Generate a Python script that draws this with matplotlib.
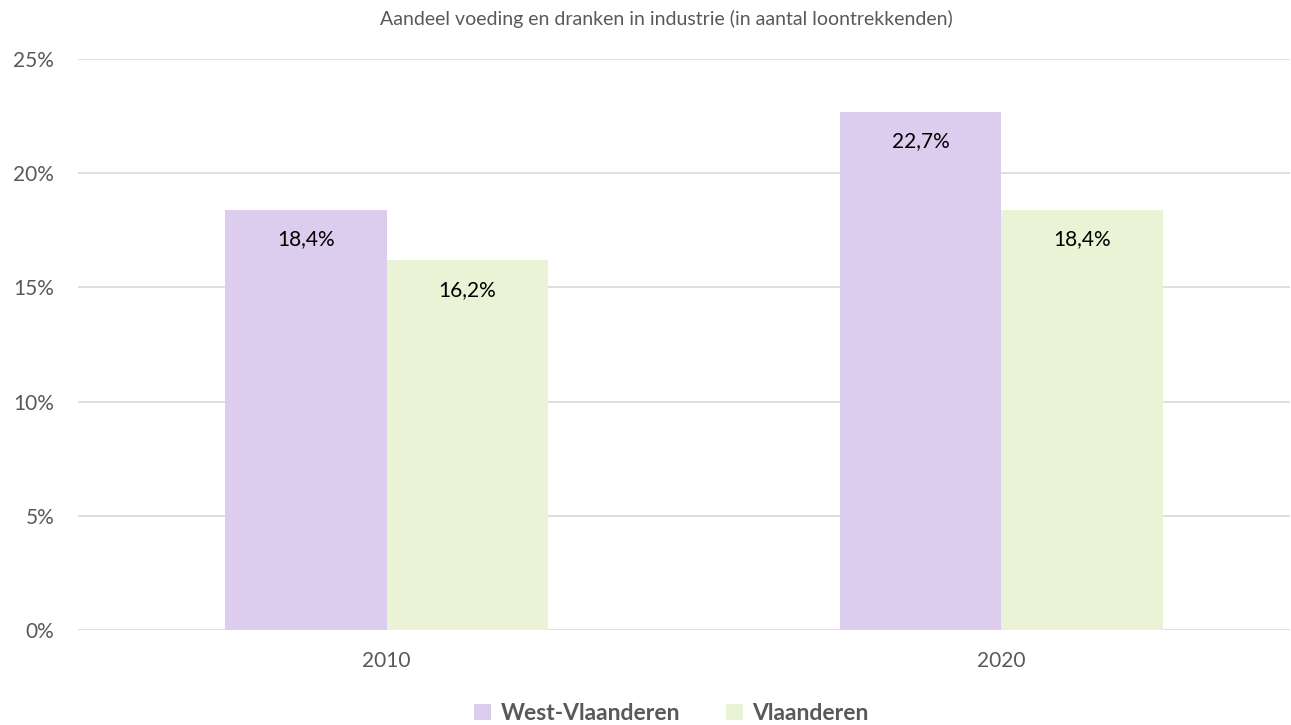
import matplotlib.pyplot as plt
import numpy as np

jaren = ['2010', '2020']
west_vlaanderen = [18.4, 22.7]
vlaanderen = [16.2, 18.4]
reeksen = ['West-Vlaanderen', 'Vlaanderen']
kleuren = ['#DCCCEE', '#EBF3D7']

plt.rcParams['font.family'] = ['Lato', 'DejaVu Sans']

fig = plt.figure(figsize=(12.91, 7.25), dpi=100)
ax = fig.add_axes([0.0604, 0.131, 0.9386, 0.7876])

x = np.arange(len(jaren))
w = 0.263
for i, (vals, kleur, naam) in enumerate(zip([west_vlaanderen, vlaanderen], kleuren, reeksen)):
    pos = x + (i - 0.5) * w
    bars = ax.bar(pos, vals, width=w, color=kleur, label=naam, zorder=2)
    for b, v in zip(bars, vals):
        ax.text(b.get_x() + b.get_width() / 2, v - 1.3, f'{v:.1f}%'.replace('.', ','),
                ha='center', va='center', fontsize=15, color='black', zorder=3)

ax.set_xlim(-0.502, 1.469)
ax.set_ylim(0, 25)
ax.set_yticks([0, 5, 10, 15, 20, 25])
ax.set_yticklabels([f'{t}%' for t in [0, 5, 10, 15, 20, 25]])
ax.set_xticks(x)
ax.set_xticklabels(jaren)
ax.tick_params(axis='both', length=0, labelsize=15, colors='#595959')
ax.tick_params(axis='y', pad=17)
ax.tick_params(axis='x', pad=15)
ax.grid(axis='y', color='#D9D9D9', linewidth=1.2, zorder=0)
for s in ax.spines.values():
    s.set_visible(False)

fig.text(0.516, 0.974, 'Aandeel voeding en dranken in industrie (in aantal loontrekkenden)',
         ha='center', va='center', fontsize=14, color='#595959')

leg = fig.legend(loc='center', bbox_to_anchor=(0.52, 0.016), ncol=2, frameon=False,
                 prop={'size': 16.5, 'weight': 'bold'}, handlelength=0.75, handleheight=0.75,
                 handletextpad=0.4, columnspacing=2.0, borderpad=0)
for t in leg.get_texts():
    t.set_color('#595959')

plt.savefig('out.png', dpi=100)
